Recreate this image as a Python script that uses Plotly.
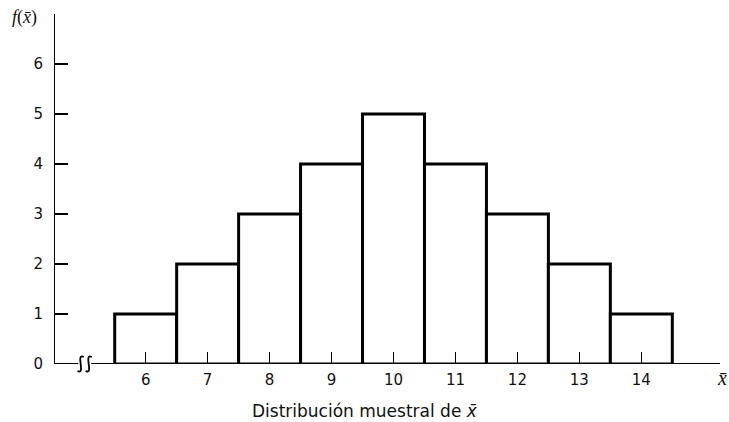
import plotly.graph_objects as go

x_values = [6, 7, 8, 9, 10, 11, 12, 13, 14]
frequencies = [1, 2, 3, 4, 5, 4, 3, 2, 1]
y_ticks = [0, 1, 2, 3, 4, 5, 6]

X0, X1 = 4.52, 15.27
Y0, Y1 = 0, 7.0

fig = go.Figure()
fig.add_trace(go.Bar(
    x=x_values, y=frequencies, width=1,
    marker=dict(color="white", line=dict(color="black", width=3)),
    hoverinfo="skip", showlegend=False,
))

font = dict(family="DejaVu Sans, Arial, sans-serif", size=15, color="#111")

fig.update_layout(
    width=729, height=422,
    margin=dict(l=54, r=9, t=14, b=58),
    paper_bgcolor="white", plot_bgcolor="white",
    bargap=0,
    font=font,
    xaxis=dict(range=[X0, X1], tickvals=x_values, ticks="inside", ticklen=12,
               tickwidth=1.5, tickcolor="black", showgrid=False, zeroline=False,
               showline=False, ticklabelstandoff=5, tickfont=font, fixedrange=True),
    yaxis=dict(range=[Y0, Y1], tickvals=y_ticks, ticks="inside", ticklen=14,
               tickwidth=1.5, tickcolor="black", showgrid=False, zeroline=False,
               showline=False, ticklabelstandoff=10, tickfont=font, fixedrange=True),
)

# axes lines
fig.add_shape(type="line", xref="x", yref="y", x0=X0, x1=X0, y0=0, y1=Y1,
              line=dict(color="black", width=2))
fig.add_shape(type="line", xref="x", yref="y", x0=X0, x1=4.91, y0=0, y1=0,
              line=dict(color="black", width=2))
fig.add_shape(type="line", xref="x", yref="y", x0=5.12, x1=X1, y0=0, y1=0,
              line=dict(color="black", width=2))
# axis break squiggles (paper y so they are not clipped below the baseline)
for cx in [4.95, 5.08]:
    fig.add_shape(type="path", xref="x", yref="paper",
                  path=(f"M {cx+0.05},0.02 C {cx-0.09},0.032 {cx+0.09},-0.032 {cx-0.05},-0.02"),
                  line=dict(color="black", width=1.8))

fig.add_annotation(x=-0.045, y=0.99, xref="paper", yref="paper",
                   text="<i>f</i>(<i>x̄</i>)", showarrow=False,
                   font=dict(family="Liberation Serif, serif", size=18, color="#111"),
                   xanchor="center", yanchor="middle")
fig.add_annotation(x=1.003, y=-0.04, xref="paper", yref="paper",
                   text="<i>x̄</i>", showarrow=False,
                   font=dict(family="Liberation Serif, serif", size=20, color="#111"),
                   xanchor="center", yanchor="middle")
fig.add_annotation(x=0.467, y=-0.134, xref="paper", yref="paper",
                   text="Distribución muestral de <i>x̄</i>", showarrow=False,
                   font=dict(family="DejaVu Sans, Arial, sans-serif", size=17, color="#111"),
                   xanchor="center", yanchor="middle")

fig.write_html(
    "out.html",
    config={"displayModeBar": False, "staticPlot": True},
    post_script="document.body.style.margin='0';document.documentElement.style.overflow='hidden';",
)
